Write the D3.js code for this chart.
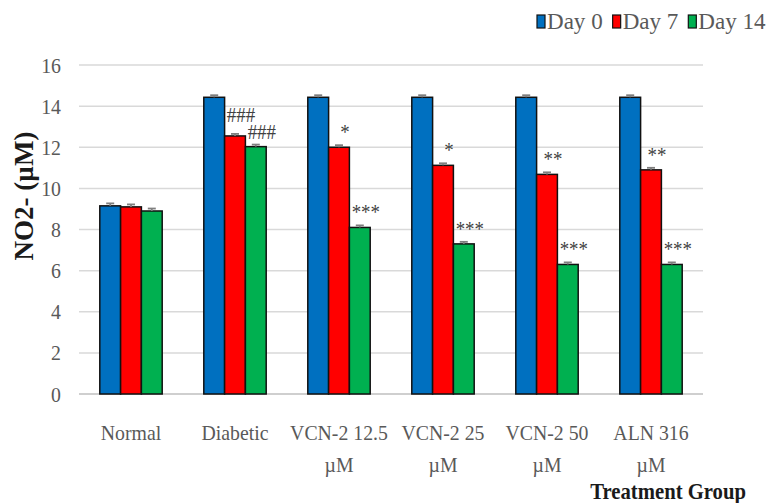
<!DOCTYPE html>
<html><head><meta charset="utf-8">
<script src="https://cdn.jsdelivr.net/npm/d3@7"></script>
<style>
body{margin:0;background:#fff;}
text{font-family:"Liberation Serif","Times New Roman",serif;}
</style></head>
<body><svg id="c" width="774" height="503"></svg>
<script>
const categories = ["Normal","Diabetic","VCN-2 12.5 µM","VCN-2 25 µM","VCN-2 50 µM","ALN 316 µM"];
const seriesNames = ["Day 0","Day 7","Day 14"];
const day0 = [9.15, 14.43, 14.43, 14.43, 14.43, 14.43];
const day7 = [9.1, 12.55, 12.0, 11.12, 10.68, 10.9];
const day14 = [8.9, 12.03, 8.1, 7.3, 6.3, 6.3];
const err0 = [0.12, 0.1, 0.1, 0.1, 0.1, 0.1];
const err7 = [0.12, 0.1, 0.1, 0.1, 0.1, 0.1];
const err14 = [0.12, 0.1, 0.1, 0.1, 0.1, 0.1];
const sig7 = ["", "###", "*", "*", "**", "**"];
const sig14 = ["", "###", "***", "***", "***", "***"];
const yTicks = [0,2,4,6,8,10,12,14,16];
const colors = ["#0070C0","#FF0000","#00B050"];

const values = [day0, day7, day14];
const errs = [err0, err7, err14];
const sigs = [null, sig7, sig14];
const SX = 0.9; // horizontal condensation of the serif text

const svg = d3.select("#c");
const x = d3.scaleBand().domain(categories).range([79,703]).paddingInner(0.4).paddingOuter(0.2);
const xs = d3.scaleBand().domain(seriesNames).range([0, x.bandwidth()]);
const y = d3.scaleLinear().domain([0,16]).range([394,65]);

// gridlines
svg.append("g").selectAll("line").data(yTicks).join("line")
  .attr("x1",79).attr("x2",703)
  .attr("y1",d=>y(d)).attr("y2",d=>y(d))
  .attr("stroke",d=>d===0?"#bfbfbf":"#d9d9d9").attr("stroke-width",1.5);

// y axis labels
const yAxis = d3.axisLeft(y).tickValues(yTicks).tickSize(0).tickPadding(0);
const ya = svg.append("g").attr("transform","translate(61,0)").call(yAxis);
ya.select(".domain").remove();
ya.selectAll("text").attr("font-size",22).attr("fill","#595959")
  .attr("transform",`scale(${SX},1)`)
  .style("font-family","'Liberation Serif',serif");

// bars
seriesNames.forEach((s,si)=>{
  const g = svg.append("g");
  g.selectAll("rect").data(categories).join("rect")
    .attr("x",(c)=>x(c)+xs(s))
    .attr("width",xs.bandwidth())
    .attr("y",(c,i)=>y(values[si][i]))
    .attr("height",(c,i)=>y(0)-y(values[si][i]))
    .attr("fill",colors[si]).attr("stroke","#111").attr("stroke-width",1.5);
  const eg = svg.append("g").attr("stroke","#7f7f7f").attr("stroke-width",1.8);
  categories.forEach((c,i)=>{
    const cx = x(c)+xs(s)+xs.bandwidth()/2;
    const v = values[si][i], e = errs[si][i];
    eg.append("line").attr("x1",cx).attr("x2",cx).attr("y1",y(v)).attr("y2",y(v+e));
    eg.append("line").attr("x1",cx-4).attr("x2",cx+4).attr("y1",y(v+e)).attr("y2",y(v+e));
  });
});

// significance labels (Day 7 raised when it would collide with the Day 14 label)
categories.forEach((c,i)=>{
  const y14 = y(day14[i]) - 8;
  let y7 = y(day7[i]) - 8;
  if (sig14[i] && sig7[i] && Math.abs(y7 - y14) < 16) y7 = y14 - 17;
  [[sig7[i], "Day 7", y7], [sig14[i], "Day 14", y14]].forEach(([lab, s, yy])=>{
    if(!lab) return;
    svg.append("text")
      .attr("transform",`translate(${x(c)+xs(s)+xs.bandwidth()/2+6},${yy}) scale(${SX},1)`)
      .attr("text-anchor","middle").attr("font-size",21).attr("fill","#404040")
      .text(lab);
  });
});

// x labels
categories.forEach(c=>{
  const idx = c.indexOf(" µM");
  const lines = idx>=0 ? [c.slice(0,idx), "µM"] : [c];
  const g = svg.append("g").attr("transform",`translate(${x(c)+x.bandwidth()/2},0)`);
  const t = g.append("text").attr("text-anchor","middle").attr("font-size",22).attr("fill","#595959")
    .attr("transform",`scale(${SX},1)`);
  lines.forEach((ln,k)=>{
    t.append("tspan").attr("x",0).attr("y",440+k*32).text(ln);
  });
});

// axis titles
svg.append("text").attr("transform","translate(33,196) rotate(-90)")
  .attr("text-anchor","middle").attr("font-size",27).attr("font-weight","bold").attr("fill","#1a1a1a")
  .text("NO2- (µM)");
svg.append("text").attr("transform",`translate(746,499) scale(${SX},1)`).attr("text-anchor","end")
  .attr("font-size",23).attr("font-weight","bold").attr("fill","#1a1a1a")
  .text("Treatment Group");

// legend
const LS = 0.96;
const lg = svg.append("g");
let lx = 537;
seriesNames.forEach((s,si)=>{
  lg.append("rect").attr("x",lx).attr("y",15).attr("width",8).attr("height",13)
    .attr("fill",colors[si]).attr("stroke","#111").attr("stroke-width",1.2);
  const t = lg.append("text").attr("transform",`translate(${lx+10},29) scale(${LS},1)`)
    .attr("font-size",24).attr("fill","#595959").text(s);
  lx += 10 + t.node().getComputedTextLength()*LS + 10;
});
</script></body></html>
